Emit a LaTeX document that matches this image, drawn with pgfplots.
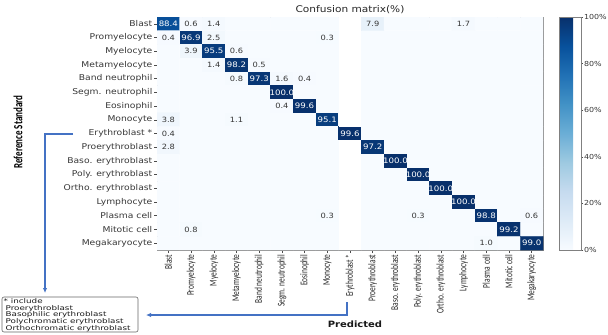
\documentclass[border=0pt]{standalone}
\usepackage{fontspec}
\setmainfont{DejaVu Sans}[FakeStretch=1.15]
\newfontfamily\narrowfont{Carlito}[FakeStretch=0.72]
\newfontfamily\boxfont{DejaVu Sans}[FakeStretch=1.35]
\usepackage{pgfplots}
\pgfplotsset{compat=1.18}
\usetikzlibrary{arrows.meta}
\definecolor{arrowblue}{RGB}{68,114,196}
\definecolor{txtgray}{RGB}{55,55,55}
\newcommand{\fs}[1]{\fontsize{#1}{#1}\selectfont}
\begin{document}
\begin{tikzpicture}
\path[use as bounding box] (0,0) rectangle (608bp,-335bp);
\begin{axis}[
  at={(157bp,-17bp)}, anchor=north west,
  width=386bp, height=233bp, scale only axis,
  xmin=-0.5, xmax=16.5, ymin=-0.5, ymax=16.5, y dir=reverse,
  enlargelimits=false,
  xtick={0,...,16}, ytick={0,...,16},
  xticklabels={Blast,Promyelocyte,Myelocyte,Metamyelocyte,Band neutrophil,Segm. neutrophil,Eosinophil,Monocyte,Erythroblast *,Proerythroblast,Baso. erythroblast,Poly. erythroblast,Ortho. erythroblast,Lymphocyte,Plasma cell,Mitotic cell,Megakaryocyte},
  yticklabels={Blast,Promyelocyte,Myelocyte,Metamyelocyte,Band neutrophil,Segm. neutrophil,Eosinophil,Monocyte,Erythroblast *,Proerythroblast,Baso. erythroblast,Poly. erythroblast,Ortho. erythroblast,Lymphocyte,Plasma cell,Mitotic cell,Megakaryocyte},
  tick pos=left, tick align=outside, major tick length=3bp,
  xticklabel style={rotate=90, anchor=east, font=\narrowfont\fs{10.3bp}, text=black!85, inner sep=1.5bp},
  yticklabel style={font=\fs{8bp}, text=txtgray, inner sep=1.5bp},
  axis line style={black!50, line width=0.6bp},
  tick style={black!70, line width=0.5bp},
  colormap={blues}{rgb255=(247,251,255) rgb255=(222,235,247) rgb255=(198,219,239) rgb255=(158,202,225) rgb255=(107,174,214) rgb255=(66,146,198) rgb255=(33,113,181) rgb255=(8,81,156) rgb255=(8,48,107)},
  point meta min=0, point meta max=100,
  colorbar,
  colorbar style={
    at={(parent axis.north east)}, anchor=north west, xshift={16bp-0.3cm},
    width=22bp,
    tick pos=right, yticklabel pos=right, tick align=outside,
    ytick={0,20,...,100}, yticklabels={0\%,20\%,40\%,60\%,80\%,100\%},
    yticklabel style={font=\fs{6.9bp}, text=txtgray, inner sep=0.8bp},
    major tick length=2bp,
    axis line style={black!50, line width=0.6bp},
    tick style={black!70, line width=0.5bp},
  },
]
\addplot[matrix plot*, mesh/cols=17, point meta=explicit] table[meta=v, row sep=\\] {
x y v\\
0 0 88.4\\ 1 0 0.6\\ 2 0 1.4\\ 3 0 0\\ 4 0 0\\ 5 0 0\\ 6 0 0\\ 7 0 0\\ 8 0 0\\ 9 0 7.9\\ 10 0 0\\ 11 0 0\\ 12 0 0\\ 13 0 1.7\\ 14 0 0\\ 15 0 0\\ 16 0 0\\
0 1 0.4\\ 1 1 96.9\\ 2 1 2.5\\ 3 1 0\\ 4 1 0\\ 5 1 0\\ 6 1 0\\ 7 1 0.3\\ 8 1 0\\ 9 1 0\\ 10 1 0\\ 11 1 0\\ 12 1 0\\ 13 1 0\\ 14 1 0\\ 15 1 0\\ 16 1 0\\
0 2 0\\ 1 2 3.9\\ 2 2 95.5\\ 3 2 0.6\\ 4 2 0\\ 5 2 0\\ 6 2 0\\ 7 2 0\\ 8 2 0\\ 9 2 0\\ 10 2 0\\ 11 2 0\\ 12 2 0\\ 13 2 0\\ 14 2 0\\ 15 2 0\\ 16 2 0\\
0 3 0\\ 1 3 0\\ 2 3 1.4\\ 3 3 98.2\\ 4 3 0.5\\ 5 3 0\\ 6 3 0\\ 7 3 0\\ 8 3 0\\ 9 3 0\\ 10 3 0\\ 11 3 0\\ 12 3 0\\ 13 3 0\\ 14 3 0\\ 15 3 0\\ 16 3 0\\
0 4 0\\ 1 4 0\\ 2 4 0\\ 3 4 0.8\\ 4 4 97.3\\ 5 4 1.6\\ 6 4 0.4\\ 7 4 0\\ 8 4 0\\ 9 4 0\\ 10 4 0\\ 11 4 0\\ 12 4 0\\ 13 4 0\\ 14 4 0\\ 15 4 0\\ 16 4 0\\
0 5 0\\ 1 5 0\\ 2 5 0\\ 3 5 0\\ 4 5 0\\ 5 5 100.0\\ 6 5 0\\ 7 5 0\\ 8 5 0\\ 9 5 0\\ 10 5 0\\ 11 5 0\\ 12 5 0\\ 13 5 0\\ 14 5 0\\ 15 5 0\\ 16 5 0\\
0 6 0\\ 1 6 0\\ 2 6 0\\ 3 6 0\\ 4 6 0\\ 5 6 0.4\\ 6 6 99.6\\ 7 6 0\\ 8 6 0\\ 9 6 0\\ 10 6 0\\ 11 6 0\\ 12 6 0\\ 13 6 0\\ 14 6 0\\ 15 6 0\\ 16 6 0\\
0 7 3.8\\ 1 7 0\\ 2 7 0\\ 3 7 1.1\\ 4 7 0\\ 5 7 0\\ 6 7 0\\ 7 7 95.1\\ 8 7 0\\ 9 7 0\\ 10 7 0\\ 11 7 0\\ 12 7 0\\ 13 7 0\\ 14 7 0\\ 15 7 0\\ 16 7 0\\
0 8 0.4\\ 1 8 0\\ 2 8 0\\ 3 8 0\\ 4 8 0\\ 5 8 0\\ 6 8 0\\ 7 8 0\\ 8 8 99.6\\ 9 8 0\\ 10 8 0\\ 11 8 0\\ 12 8 0\\ 13 8 0\\ 14 8 0\\ 15 8 0\\ 16 8 0\\
0 9 2.8\\ 1 9 0\\ 2 9 0\\ 3 9 0\\ 4 9 0\\ 5 9 0\\ 6 9 0\\ 7 9 0\\ 8 9 0\\ 9 9 97.2\\ 10 9 0\\ 11 9 0\\ 12 9 0\\ 13 9 0\\ 14 9 0\\ 15 9 0\\ 16 9 0\\
0 10 0\\ 1 10 0\\ 2 10 0\\ 3 10 0\\ 4 10 0\\ 5 10 0\\ 6 10 0\\ 7 10 0\\ 8 10 0\\ 9 10 0\\ 10 10 100.0\\ 11 10 0\\ 12 10 0\\ 13 10 0\\ 14 10 0\\ 15 10 0\\ 16 10 0\\
0 11 0\\ 1 11 0\\ 2 11 0\\ 3 11 0\\ 4 11 0\\ 5 11 0\\ 6 11 0\\ 7 11 0\\ 8 11 0\\ 9 11 0\\ 10 11 0\\ 11 11 100.0\\ 12 11 0\\ 13 11 0\\ 14 11 0\\ 15 11 0\\ 16 11 0\\
0 12 0\\ 1 12 0\\ 2 12 0\\ 3 12 0\\ 4 12 0\\ 5 12 0\\ 6 12 0\\ 7 12 0\\ 8 12 0\\ 9 12 0\\ 10 12 0\\ 11 12 0\\ 12 12 100.0\\ 13 12 0\\ 14 12 0\\ 15 12 0\\ 16 12 0\\
0 13 0\\ 1 13 0\\ 2 13 0\\ 3 13 0\\ 4 13 0\\ 5 13 0\\ 6 13 0\\ 7 13 0\\ 8 13 0\\ 9 13 0\\ 10 13 0\\ 11 13 0\\ 12 13 0\\ 13 13 100.0\\ 14 13 0\\ 15 13 0\\ 16 13 0\\
0 14 0\\ 1 14 0\\ 2 14 0\\ 3 14 0\\ 4 14 0\\ 5 14 0\\ 6 14 0\\ 7 14 0.3\\ 8 14 0\\ 9 14 0\\ 10 14 0\\ 11 14 0.3\\ 12 14 0\\ 13 14 0\\ 14 14 98.8\\ 15 14 0\\ 16 14 0.6\\
0 15 0\\ 1 15 0.8\\ 2 15 0\\ 3 15 0\\ 4 15 0\\ 5 15 0\\ 6 15 0\\ 7 15 0\\ 8 15 0\\ 9 15 0\\ 10 15 0\\ 11 15 0\\ 12 15 0\\ 13 15 0\\ 14 15 0\\ 15 15 99.2\\ 16 15 0\\
0 16 0\\ 1 16 0\\ 2 16 0\\ 3 16 0\\ 4 16 0\\ 5 16 0\\ 6 16 0\\ 7 16 0\\ 8 16 0\\ 9 16 0\\ 10 16 0\\ 11 16 0\\ 12 16 0\\ 13 16 0\\ 14 16 1.0\\ 15 16 0\\ 16 16 99.0\\
};
% empty (white) cells of the Erythroblast * column
\addplot[fill=white, draw=none, mark=none, forget plot] coordinates {(7.5,-0.5) (8.5,-0.5) (8.5,7.5) (7.5,7.5)};
\addplot[fill=white, draw=none, mark=none, forget plot] coordinates {(7.5,8.5) (8.5,8.5) (8.5,16.5) (7.5,16.5)};
% values on dark cells
\addplot[only marks, mark=none, point meta=explicit symbolic, nodes near coords,
  every node near coord/.append style={anchor=center, font=\fs{7.5bp}, text=white, inner sep=0pt}]
  table[meta=v, row sep=\\] {
x y v\\
0 0 88.4\\ 1 1 96.9\\ 2 2 95.5\\ 3 3 98.2\\ 4 4 97.3\\ 5 5 100.0\\ 6 6 99.6\\ 7 7 95.1\\ 8 8 99.6\\
9 9 97.2\\ 10 10 100.0\\ 11 11 100.0\\ 12 12 100.0\\ 13 13 100.0\\ 14 14 98.8\\ 15 15 99.2\\ 16 16 99.0\\
};
% values on light cells
\addplot[only marks, mark=none, point meta=explicit symbolic, nodes near coords,
  every node near coord/.append style={anchor=center, font=\fs{7.2bp}, text=txtgray, inner sep=0pt}]
  table[meta=v, row sep=\\] {
x y v\\
1 0 0.6\\ 2 0 1.4\\ 9 0 7.9\\ 13 0 1.7\\ 0 1 0.4\\ 2 1 2.5\\ 7 1 0.3\\ 1 2 3.9\\ 3 2 0.6\\
2 3 1.4\\ 4 3 0.5\\ 3 4 0.8\\ 5 4 1.6\\ 6 4 0.4\\ 5 6 0.4\\ 0 7 3.8\\ 3 7 1.1\\ 0 8 0.4\\
0 9 2.8\\ 7 14 0.3\\ 11 14 0.3\\ 16 14 0.6\\ 1 15 0.8\\ 14 16 1.0\\
};
\end{axis}
\node[font=\fs{9.2bp}, text=black!85] at (350bp,-10bp) {Confusion matrix(\%)};
\node[rotate=90, font=\narrowfont\bfseries\fs{12.5bp}] at (18bp,-132bp) {Reference Standard};
\node[font=\bfseries\fs{8.7bp}, text=black!90] at (355bp,-324bp) {Predicted};
\draw[arrowblue, line width=1.3bp, -{Latex[length=5bp,width=4.5bp]}] (73bp,-134bp) -- (45bp,-134bp) -- (45bp,-293bp);
\draw[arrowblue, line width=1.3bp, -{Latex[length=5bp,width=4.5bp]}] (347bp,-302bp) -- (347bp,-315bp) -- (146bp,-315bp);
\draw[black!60, rounded corners=2bp, line width=0.6bp] (2bp,-297bp) rectangle (138bp,-332bp);
\node[anchor=north west, align=left, inner sep=0pt, font=\boxfont\fontsize{6.5bp}{6.6bp}\selectfont, text=black!90] at (3.5bp,-298.5bp)
  {* include\\\hspace*{0.3em}Proerythroblast\\\hspace*{0.3em}Basophilic erythroblast\\\hspace*{0.3em}Polychromatic erythroblast\\\hspace*{0.3em}Orthochromatic erythroblast};
\end{tikzpicture}
\end{document}
